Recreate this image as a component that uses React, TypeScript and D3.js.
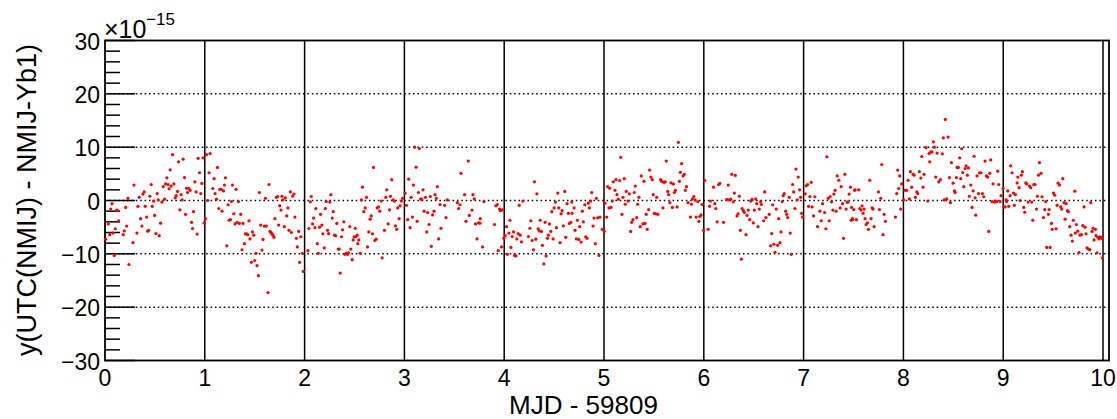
import React, { useEffect, useRef } from 'react';
import * as d3 from 'd3';

// y(UTC(NMIJ) - NMIJ-Yb1) in units of 1e-15, grouped by stretch of MJD
const seg0: [number, number][] = [
  [0.007,-7.25],[0.033,-4.4],[0.047,-6.4],[0.057,-1.6],[0.07,-0.6],[0.08,-6.1],[0.093,-10.3],[0.103,-5.3],[0.117,-1.8],[0.127,-1.9],
  [0.137,-3.8],[0.183,-6.4],[0.193,-5.7],[0.207,-1.3],[0.217,-4.8],[0.23,0.4],[0.24,-12],[0.28,-7.9],[0.29,2.9],[0.32,-6.1],
  [0.33,-1.1],[0.343,0.6],[0.357,-3.4],[0.37,-4.8],[0.38,1.2],[0.393,1.6],[0.403,-1.1],[0.417,-3.1],[0.427,-5.75],[0.437,-5.6],
  [0.45,0.8],[0.463,3],[0.473,-1.1],[0.487,-0.1],[0.497,-2.8],[0.51,-6.2],[0.523,1.3],[0.533,0.1],[0.543,-6.6],[0.557,-4.25],
  [0.57,-0.3],[0.583,2.6],[0.597,0.25],[0.607,3.1],[0.62,4.25],[0.633,3],[0.643,2.2],[0.653,5.75],[0.663,2.7],[0.677,8.6],
  [0.69,3.1],[0.703,0.5],[0.713,0.9],[0.727,1.7],[0.737,7.25],[0.75,-1.75],[0.763,1.1],[0.773,0.1],[0.783,7.75],[0.797,4.3],
  [0.807,-2.6],[0.817,2.3],[0.827,1.5],[0.84,2.3],[0.853,1.9],[0.867,-4.1],[0.877,-5.25],[0.887,-2.1],[0.9,3.5],[0.913,1.6],
  [0.923,-6.3],[0.933,7.9],[0.947,5.2],[0.96,1.3],[0.97,3.2],[0.983,8],[0.993,-4.2],[1.007,-3.4],[1.017,8.6],[1.03,0],
  [1.043,5.2],[1.053,8.8],[1.08,2.25],[1.093,4.1],[1.103,1.3],[1.117,0.25],[1.127,6.2],[1.14,-1.5],[1.15,2.1],[1.163,2.1],
  [1.173,-2],[1.187,1.8],[1.197,2.9],[1.207,4.25],[1.22,-8.5],[1.233,-0.8],[1.243,-3.7],
];

const seg1: [number, number][] = [
  [1.257,-3.6],[1.267,-0.2],[1.277,2.9],[1.29,-2.5],[1.303,-4.4],[1.313,2.1],[1.323,-4.1],[1.337,-0.2],[1.347,-4.3],[1.36,-2.6],
  [1.373,-9.25],[1.383,-4.3],[1.397,-8.1],[1.407,-6.25],[1.42,-6.25],[1.43,-6.4],[1.443,-3.8],[1.453,-7.2],[1.467,-11.6],[1.477,-5.9],
  [1.49,-6.5],[1.5,-11.25],[1.513,-9.9],[1.523,-12.2],[1.537,-14.1],[1.547,1.5],[1.56,-4.6],[1.573,-9.3],[1.583,-7.3],[1.597,-4.8],
  [1.607,0.4],[1.617,-4.8],[1.633,-17.25],[1.643,3],[1.653,-5.8],[1.663,-6],[1.673,-6.25],[1.683,-6.5],[1.693,-6.9],[1.703,-3.4],
  [1.717,0.6],[1.73,0.75],[1.74,-4.6],[1.75,-1],[1.763,-1.8],[1.773,0.8],[1.783,0.1],[1.797,-4.9],[1.807,0.5],[1.82,-2.9],
  [1.833,-1.4],[1.843,-5.6],[1.857,1.6],[1.867,-6],[1.88,0.8],[1.893,1.2],[1.903,-3.1],[1.917,-7.1],[1.927,-8.7],[1.94,-5.8],
  [1.95,-11.6],[1.963,-6.8],[1.977,-9.9],[1.987,-13.3],[2.033,-9.4],[2.043,-5.25],[2.057,-0.25],[2.067,0.75],[2.08,-4.4],[2.09,-3.3],
  [2.103,-5.1],[2.113,-1.5],[2.127,-8.1],[2.137,-9.9],[2.15,-5],[2.16,-2.6],[2.173,-4.6],[2.183,-6.25],[2.197,-8.9],[2.207,-1.5],
  [2.217,-0.2],[2.23,-5.6],[2.24,-6.2],[2.253,-0.3],[2.263,1.1],[2.277,-3.3],[2.287,-2.1],[2.3,-6.5],[2.31,-6.6],[2.323,-4.3],
  [2.337,-9.1],[2.347,-9.1],[2.357,-13.6],[2.37,-6.8],[2.38,-5.5],[2.393,-4],[2.403,-10.1],[2.417,-9.9],[2.43,-10.1],[2.44,-9.8],
  [2.453,-4.9],[2.463,-9.1],[2.477,-11.1],[2.487,-7.4],[2.497,-6.8],
];

const seg2: [number, number][] = [
  [2.507,-5.2],[2.513,-6.8],[2.527,-6.5],[2.533,-8.1],[2.543,-7.4],[2.557,-9.9],[2.57,0.1],[2.58,2.5],[2.593,-2.1],[2.607,-1.4],
  [2.62,0.6],[2.63,-8.7],[2.643,-5.9],[2.657,-3.5],[2.667,-2.9],[2.68,-6.25],[2.69,6.2],[2.703,-7.5],[2.717,-7.25],[2.727,-1.4],
  [2.74,-1.2],[2.753,-2],[2.767,-0.1],[2.777,-10.75],[2.8,-5.6],[2.813,0.6],[2.823,2],[2.837,-4.4],[2.85,-1.75],[2.86,0.8],
  [2.873,3.9],[2.887,0.1],[2.9,-0.1],[2.91,-4.75],[2.923,-5.4],[2.933,-1.4],[2.947,-3.4],[2.957,-1],[2.97,-0.1],[2.983,0.4],
  [3.007,1.4],[3.02,-0.9],[3.033,-3.6],[3.043,4],[3.057,-5.1],[3.067,0.6],[3.08,-3.1],[3.09,2.9],[3.103,10],[3.117,6.25],
  [3.127,-3.9],[3.14,1.5],[3.15,9.75],[3.163,0.3],[3.173,0.2],[3.187,2],[3.197,-2],[3.21,0.6],[3.223,-5.9],[3.233,-2.25],
  [3.247,-4.5],[3.26,0.75],[3.27,-8.6],[3.283,-2.7],[3.297,-2],[3.307,1.1],[3.32,0.4],[3.33,2.6],[3.343,-7.2],[3.357,-0.75],
  [3.367,-5.2],[3.403,-0.9],[3.417,-3.2],[3.43,0.1],[3.53,-0.4],[3.543,-1.5],[3.557,-0.8],[3.567,5.1],[3.603,1.1],[3.617,-3.9],
  [3.64,7.4],[3.65,-2.8],[3.677,-1.8],[3.687,1.1],[3.7,0.3],[3.713,-4.4],[3.727,-7.2],[3.743,-4.2],
];

const seg3: [number, number][] = [
  [3.757,-4.25],[3.76,-3.4],[3.783,-8.7],[3.797,-0.2],[3.903,-4.5],[3.917,-1],[3.93,-0.75],[3.94,-9.4],[3.953,-1.6],[3.963,-1.9],
  [3.973,-8.7],[3.98,-1.75],[3.997,-7.1],[4.01,-6.6],[4.023,-4.9],[4.033,-10.1],[4.047,-6.1],[4.057,-3.7],[4.067,-8.8],[4.08,-6.75],
  [4.093,-5.9],[4.103,-10.3],[4.117,-10.4],[4.127,-7.2],[4.14,-6.2],[4.15,-0.9],[4.16,-6.5],[4.173,-7.75],[4.187,-0.1],[4.243,-6.75],
  [4.257,-5.2],[4.267,-3.8],[4.28,-7.5],[4.293,-9.25],[4.303,3.5],[4.317,-7.25],[4.327,1.25],[4.34,-5.3],[4.35,-5.7],[4.36,-3.7],
  [4.373,-5.8],[4.383,-8.4],[4.397,-11.9],[4.41,-4.1],[4.42,-10.4],[4.433,-7.1],[4.443,-6.5],[4.453,-4.4],[4.467,-5.8],[4.477,-2.1],
  [4.49,-7.2],[4.5,-1.4],[4.513,-0.3],[4.523,-5.1],[4.537,1.4],[4.547,-1.4],[4.56,-7.9],[4.57,-2.5],[4.58,-1.9],[4.593,-4.75],
  [4.607,1.7],[4.617,-6.9],[4.63,-0.6],[4.643,-2.4],[4.653,-4.3],[4.667,-4.1],[4.677,-0.3],[4.68,-2.4],[4.7,-1.4],[4.71,-5.6],
  [4.723,-7.2],[4.733,-3.7],[4.747,-7.3],[4.757,-4.9],[4.77,-7.8],[4.783,-2],[4.793,-4],[4.807,-0.8],[4.817,-6.8],[4.83,-7.1],
  [4.843,-0.5],[4.853,-1.4],[4.867,-0.1],[4.877,1.5],[4.89,-4.8],[4.9,-3.3],[4.913,-8.1],[4.923,0.4],[4.937,-3.25],[4.95,-10.3],
  [4.96,-3.1],[4.983,-5.4],
];

const seg4: [number, number][] = [
  [5.003,-5.8],[5.01,-0.5],[5.027,-3.1],[5.037,2.6],[5.05,-1.4],[5.057,2.3],[5.07,-1.3],[5.083,-0.1],[5.093,3.5],[5.11,1.9],
  [5.12,3.9],[5.13,1.1],[5.143,0.25],[5.157,3.75],[5.167,8.1],[5.18,-2.6],[5.19,0.6],[5.203,4.1],[5.213,-0.7],[5.223,1.7],
  [5.24,-0.1],[5.253,1.25],[5.267,-5.8],[5.277,-4.1],[5.29,-3.6],[5.303,1.5],[5.313,2.7],[5.327,-3.2],[5.337,-0.7],[5.35,0.6],
  [5.363,-4.9],[5.373,4.6],[5.39,-4.4],[5.4,3.6],[5.41,-4.3],[5.423,-2.6],[5.433,-5.4],[5.447,-1.7],[5.457,5.7],[5.47,4.4],
  [5.483,3.9],[5.493,1.1],[5.503,-2.4],[5.517,-2.5],[5.527,0.6],[5.54,-2.6],[5.567,3.9],[5.577,3.6],[5.59,-1.4],[5.6,3.4],
  [5.614,3.5],[5.624,7.4],[5.638,1.7],[5.648,1.1],[5.66,-0.4],[5.671,3.3],[5.685,-1.3],[5.695,3.1],[5.705,1.5],[5.715,1.9],
  [5.732,-1.2],[5.745,10.9],[5.755,3.6],[5.765,5.3],[5.778,6.9],[5.792,4.6],[5.805,4.9],[5.815,1.9],[5.826,2.6],[5.842,-0.4],
  [5.866,-3.1],[5.876,-0.7],[5.886,0.3],[5.9,0.75],[5.913,0.1],[5.923,-3.1],[5.94,-0.2],[5.95,-3.9],[5.96,-3],[5.973,-2.7],
  [5.983,-0.75],[5.997,-5.6],[6.01,3.75],[6.044,-5.4],[6.057,-1.1],[6.067,-0.1],[6.097,2.5],[6.11,-0.6],[6.12,-1.5],[6.134,-4],
  [6.148,3],[6.16,3.2],[6.198,-4.1],[6.23,0.2],[6.245,2.9],[6.25,0.1],
];

const seg5: [number, number][] = [
  [6.27,0.25],[6.28,4.9],[6.296,-0.25],[6.306,1.4],[6.316,4.7],[6.333,-2.9],[6.343,-2.5],[6.356,0.8],[6.366,-5.6],[6.376,-11],
  [6.383,-1.5],[6.396,-1.9],[6.406,-2.25],[6.423,-6.4],[6.433,-2.8],[6.446,-1.8],[6.46,-3.6],[6.47,-0.1],[6.483,0.2],[6.496,-4.2],
  [6.506,-1.8],[6.52,0.3],[6.53,-0.6],[6.543,-4.9],[6.556,-1.6],[6.57,-0.2],[6.576,-0.75],[6.6,-3.8],[6.61,1.6],[6.623,-3.2],
  [6.656,-2.6],[6.67,-8.5],[6.68,-6.2],[6.69,-0.8],[6.703,-8.2],[6.713,-9.7],[6.726,-1.6],[6.74,-8.4],[6.75,-3.4],[6.763,-7.9],
  [6.773,-5.9],[6.786,-0.2],[6.796,0.9],[6.806,1.3],[6.82,-2],[6.83,-2.6],[6.84,-3.2],[6.856,0.6],[6.866,-6.1],[6.876,-10.1],
  [6.89,3],[6.9,1.6],[6.913,-1.5],[6.923,5.9],[6.936,0.1],[6.946,4.4],[6.96,2],[6.97,0.6],[6.98,-2.4],[6.99,-3.1],
  [7.016,1.25],[7.026,2.75],[7.04,3],[7.05,-1.1],[7.063,0.75],[7.076,3.4],[7.086,-1.2],[7.1,-2.9],[7.113,0.7],[7.14,-4.9],
  [7.163,-2],[7.176,-3.8],[7.19,-0.6],[7.21,-2.25],[7.223,-5.3],[7.233,8.2],[7.246,0.4],[7.256,-3.8],[7.266,0.75],[7.28,-0.25],
  [7.293,-1.8],[7.303,1.2],[7.316,1.9],[7.326,-2],[7.336,4.6],[7.353,3.8],[7.366,-1.4],[7.376,2.6],[7.39,-0.6],[7.4,-7.1],
  [7.413,4.9],[7.426,-1.6],[7.436,-0.3],[7.446,-0.3],[7.456,1.2],[7.47,2.5],[7.476,-3.7],[7.48,-1.3],[7.489,-3.4],[7.493,-3.6],
];

const seg6: [number, number][] = [
  [7.503,-1.7],[7.51,1.9],[7.516,2],[7.529,-3.6],[7.552,2],[7.562,-1.5],[7.576,-1.8],[7.586,-1],[7.596,-2.4],[7.606,-1.6],
  [7.616,-3.4],[7.626,-4.5],[7.639,-4.2],[7.649,-5.4],[7.663,3.8],[7.676,-3.4],[7.686,-1.4],[7.696,-1.6],[7.706,-4.9],[7.75,1.6],
  [7.76,-1.7],[7.773,0.4],[7.783,6.75],[7.796,-6.4],[7.806,-2.6],[7.82,-3.9],[7.92,-3.1],[7.933,1.3],[7.943,5.7],[7.953,2.25],
  [7.963,4.6],[7.973,-1.6],[7.983,3.1],[8.003,0.1],[8.017,1.9],[8.033,1.9],[8.047,3.8],[8.06,0.3],[8.07,5.4],[8.083,2.5],
  [8.097,4.9],[8.107,4.75],[8.12,0.6],[8.134,1.6],[8.144,1.3],[8.16,5.4],[8.174,4.2],[8.184,8.25],[8.197,2.5],[8.207,4.9],
  [8.227,9.9],[8.244,-0.1],[8.257,8.8],[8.264,7.25],[8.274,9.1],[8.287,9.1],[8.3,11],[8.31,10],[8.324,4.4],[8.337,8.9],
  [8.354,3.5],[8.37,3.9],[8.39,8.75],[8.4,11.75],[8.41,0.1],[8.42,15.2],[8.434,0.3],[8.448,11.9],[8.461,4.3],[8.471,-0.4],
  [8.481,7.1],[8.498,3.25],[8.511,1.8],[8.518,1.5],[8.531,4.3],[8.538,6.2],[8.551,6.2],[8.564,8],[8.574,4.1],[8.584,9.7],
  [8.594,5.25],[8.605,2.6],[8.618,6],[8.628,6.5],[8.641,4.75],[8.651,6.1],[8.661,0.8],[8.675,2.9],[8.688,-1.3],[8.698,1.8],
  [8.708,8.3],[8.718,0.5],[8.725,-2.75],[8.738,4.6],[8.752,1.3],[8.762,5.2],[8.778,5.2],[8.792,1.3],[8.805,0.7],[8.818,7.4],
  [8.832,4.6],[8.845,4.4],[8.855,-5.8],[8.865,5.1],[8.875,7.6],[8.888,-0.2],[8.898,3.1],[8.912,-0.3],[8.925,-0.1],[8.935,-0.2],
  [8.945,5.5],[8.955,3],[8.969,-0.2],[8.979,0.9],[8.999,2.3],[9.005,-1.2],[9.019,-1.2],[9.029,0.1],[9.035,-0.2],[9.045,1.8],
  [9.055,-1.1],[9.069,0.9],[9.075,6.5],[9.089,5.2],[9.102,1.4],[9.112,-0.9],[9.122,1.1],[9.139,3.3],[9.146,4.4],[9.159,2.4],
  [9.169,0],[9.182,4.75],[9.192,5.4],[9.206,-1.3],[9.216,-2.2],[9.226,3.3],[9.236,3.1],[9.249,-0.3],[9.263,2.7],[9.276,2.4],
  [9.286,-0.3],[9.296,-3.7],[9.306,3],[9.319,3],[9.333,-1.6],[9.343,0.8],[9.353,4.75],[9.363,7.1],[9.379,5.1],[9.389,0.7],
  [9.403,-3.2],[9.416,-1.7],[9.426,-0.2],[9.436,-8.8],[9.453,-2.6],[9.46,-1.7],[9.47,-8.8],[9.483,-4.3],[9.49,-5.4],[9.503,1.4],
  [9.516,1],[9.53,-5.3],[9.54,-0.9],[9.55,3.25],[9.563,2.9],[9.577,-1.2],[9.587,-1.6],[9.597,4.1],[9.61,-0.4],[9.62,-3.5],
  [9.63,-0.6],[9.643,-1.9],[9.653,-2.1],[9.667,-4.9],[9.68,-6.5],[9.693,-7.6],[9.703,-3.7],[9.717,1.75],[9.723,-6.1],[9.733,-4.5],
  [9.747,-5.75],[9.76,-9.75],[9.77,-6.5],[9.784,-6.4],[9.797,-4.7],[9.81,-1.2],[9.82,-5],[9.83,-6.25],[9.84,-8.9],[9.854,-9.1],
  [9.867,-9.2],[9.877,-0.4],[9.89,-5.8],[9.9,-5.2],[9.91,-7.4],[9.924,-5.4],[9.93,-6.6],[9.94,-9.8],[9.95,-6.9],[9.96,-7.2],
  [9.97,-6.8],[9.98,-6.9],[9.987,-7.1],[9.994,-10.75],
];

const xTicks = [0, 1, 2, 3, 4, 5, 6, 7, 8, 9, 10];
const dayLines = [1, 2, 3, 4, 5, 6, 7, 8, 9, 10];
const yMajor = [-30, -20, -10, 0, 10, 20, 30];
const yGrid = [-20, -10, 0, 10, 20];

const W = 1117;
const H = 419;
const FONT = '"Liberation Sans", Arial, Helvetica, sans-serif';

export default function App() {
  const ref = useRef<SVGSVGElement | null>(null);

  useEffect(() => {
    const svg = d3.select(ref.current);
    svg.selectAll('*').remove();

    const left = 105, right = 1109, top = 40.5, bottom = 360.5;
    const x = d3.scaleLinear().domain([0, 10.06]).range([left, right]);
    const y = d3.scaleLinear().domain([-30, 30]).range([bottom, top]);

    // horizontal dotted grid
    svg.append('g').selectAll('line').data(yGrid).enter().append('line')
      .attr('x1', left).attr('x2', right)
      .attr('y1', (d: number) => y(d)).attr('y2', (d: number) => y(d))
      .attr('stroke', '#000').attr('stroke-width', 1.5)
      .attr('stroke-dasharray', '1.5,2.9');

    // day boundaries
    svg.append('g').selectAll('line').data(dayLines).enter().append('line')
      .attr('x1', (d: number) => x(d)).attr('x2', (d: number) => x(d))
      .attr('y1', top).attr('y2', bottom)
      .attr('stroke', '#000').attr('stroke-width', 1.5);

    // y ticks: long at majors, short every 2
    const minor = d3.range(-30, 30.01, 2);
    svg.append('g').selectAll('line').data(minor).enter().append('line')
      .attr('x1', left)
      .attr('x2', (d: number) => left + (d % 10 === 0 ? 30 : 15))
      .attr('y1', (d: number) => y(d)).attr('y2', (d: number) => y(d))
      .attr('stroke', '#000').attr('stroke-width', 1.5);

    // frame
    svg.append('rect')
      .attr('x', left).attr('y', top)
      .attr('width', right - left).attr('height', bottom - top)
      .attr('fill', 'none').attr('stroke', '#000').attr('stroke-width', 1.8);

    // points
    const pts = [...seg0, ...seg1, ...seg2, ...seg3, ...seg4, ...seg5, ...seg6];
    svg.append('g').selectAll('circle').data(pts).enter().append('circle')
      .attr('cx', (d: [number, number]) => x(d[0]))
      .attr('cy', (d: [number, number]) => y(d[1]))
      .attr('r', 1.6)
      .attr('fill', '#ff0000');

    // tick labels
    svg.append('g').selectAll('text').data(yMajor).enter().append('text')
      .attr('x', 100).attr('y', (d: number) => y(d) + 9)
      .attr('text-anchor', 'end')
      .style('font-family', FONT).style('font-size', '23px')
      .text((d: number) => (d < 0 ? '\u2212' + Math.abs(d) : String(d)));

    svg.append('g').selectAll('text').data(xTicks).enter().append('text')
      .attr('x', (d: number) => x(d)).attr('y', 386)
      .attr('text-anchor', 'middle')
      .style('font-family', FONT).style('font-size', '23px')
      .text((d: number) => String(d));

    // exponent
    svg.append('text')
      .attr('x', 104).attr('y', 37.5)
      .style('font-family', FONT).style('font-size', '25px')
      .text('\u00d710');
    svg.append('text')
      .attr('x', 146).attr('y', 25)
      .style('font-family', FONT).style('font-size', '17px')
      .text('\u221215');

    // axis titles
    svg.append('text')
      .attr('x', 509).attr('y', 413.5)
      .style('font-family', FONT).style('font-size', '26px')
      .text('MJD - 59809');

    svg.append('text')
      .attr('transform', 'translate(36,200) rotate(-90)')
      .attr('text-anchor', 'middle')
      .style('font-family', FONT).style('font-size', '27px')
      .text('y(UTC(NMIJ) - NMIJ-Yb1)');
  }, []);

  return (
    <svg ref={ref} width={W} height={H}
      style={{ position: 'absolute', left: 0, top: 0, background: '#fff' }} />
  );
}
